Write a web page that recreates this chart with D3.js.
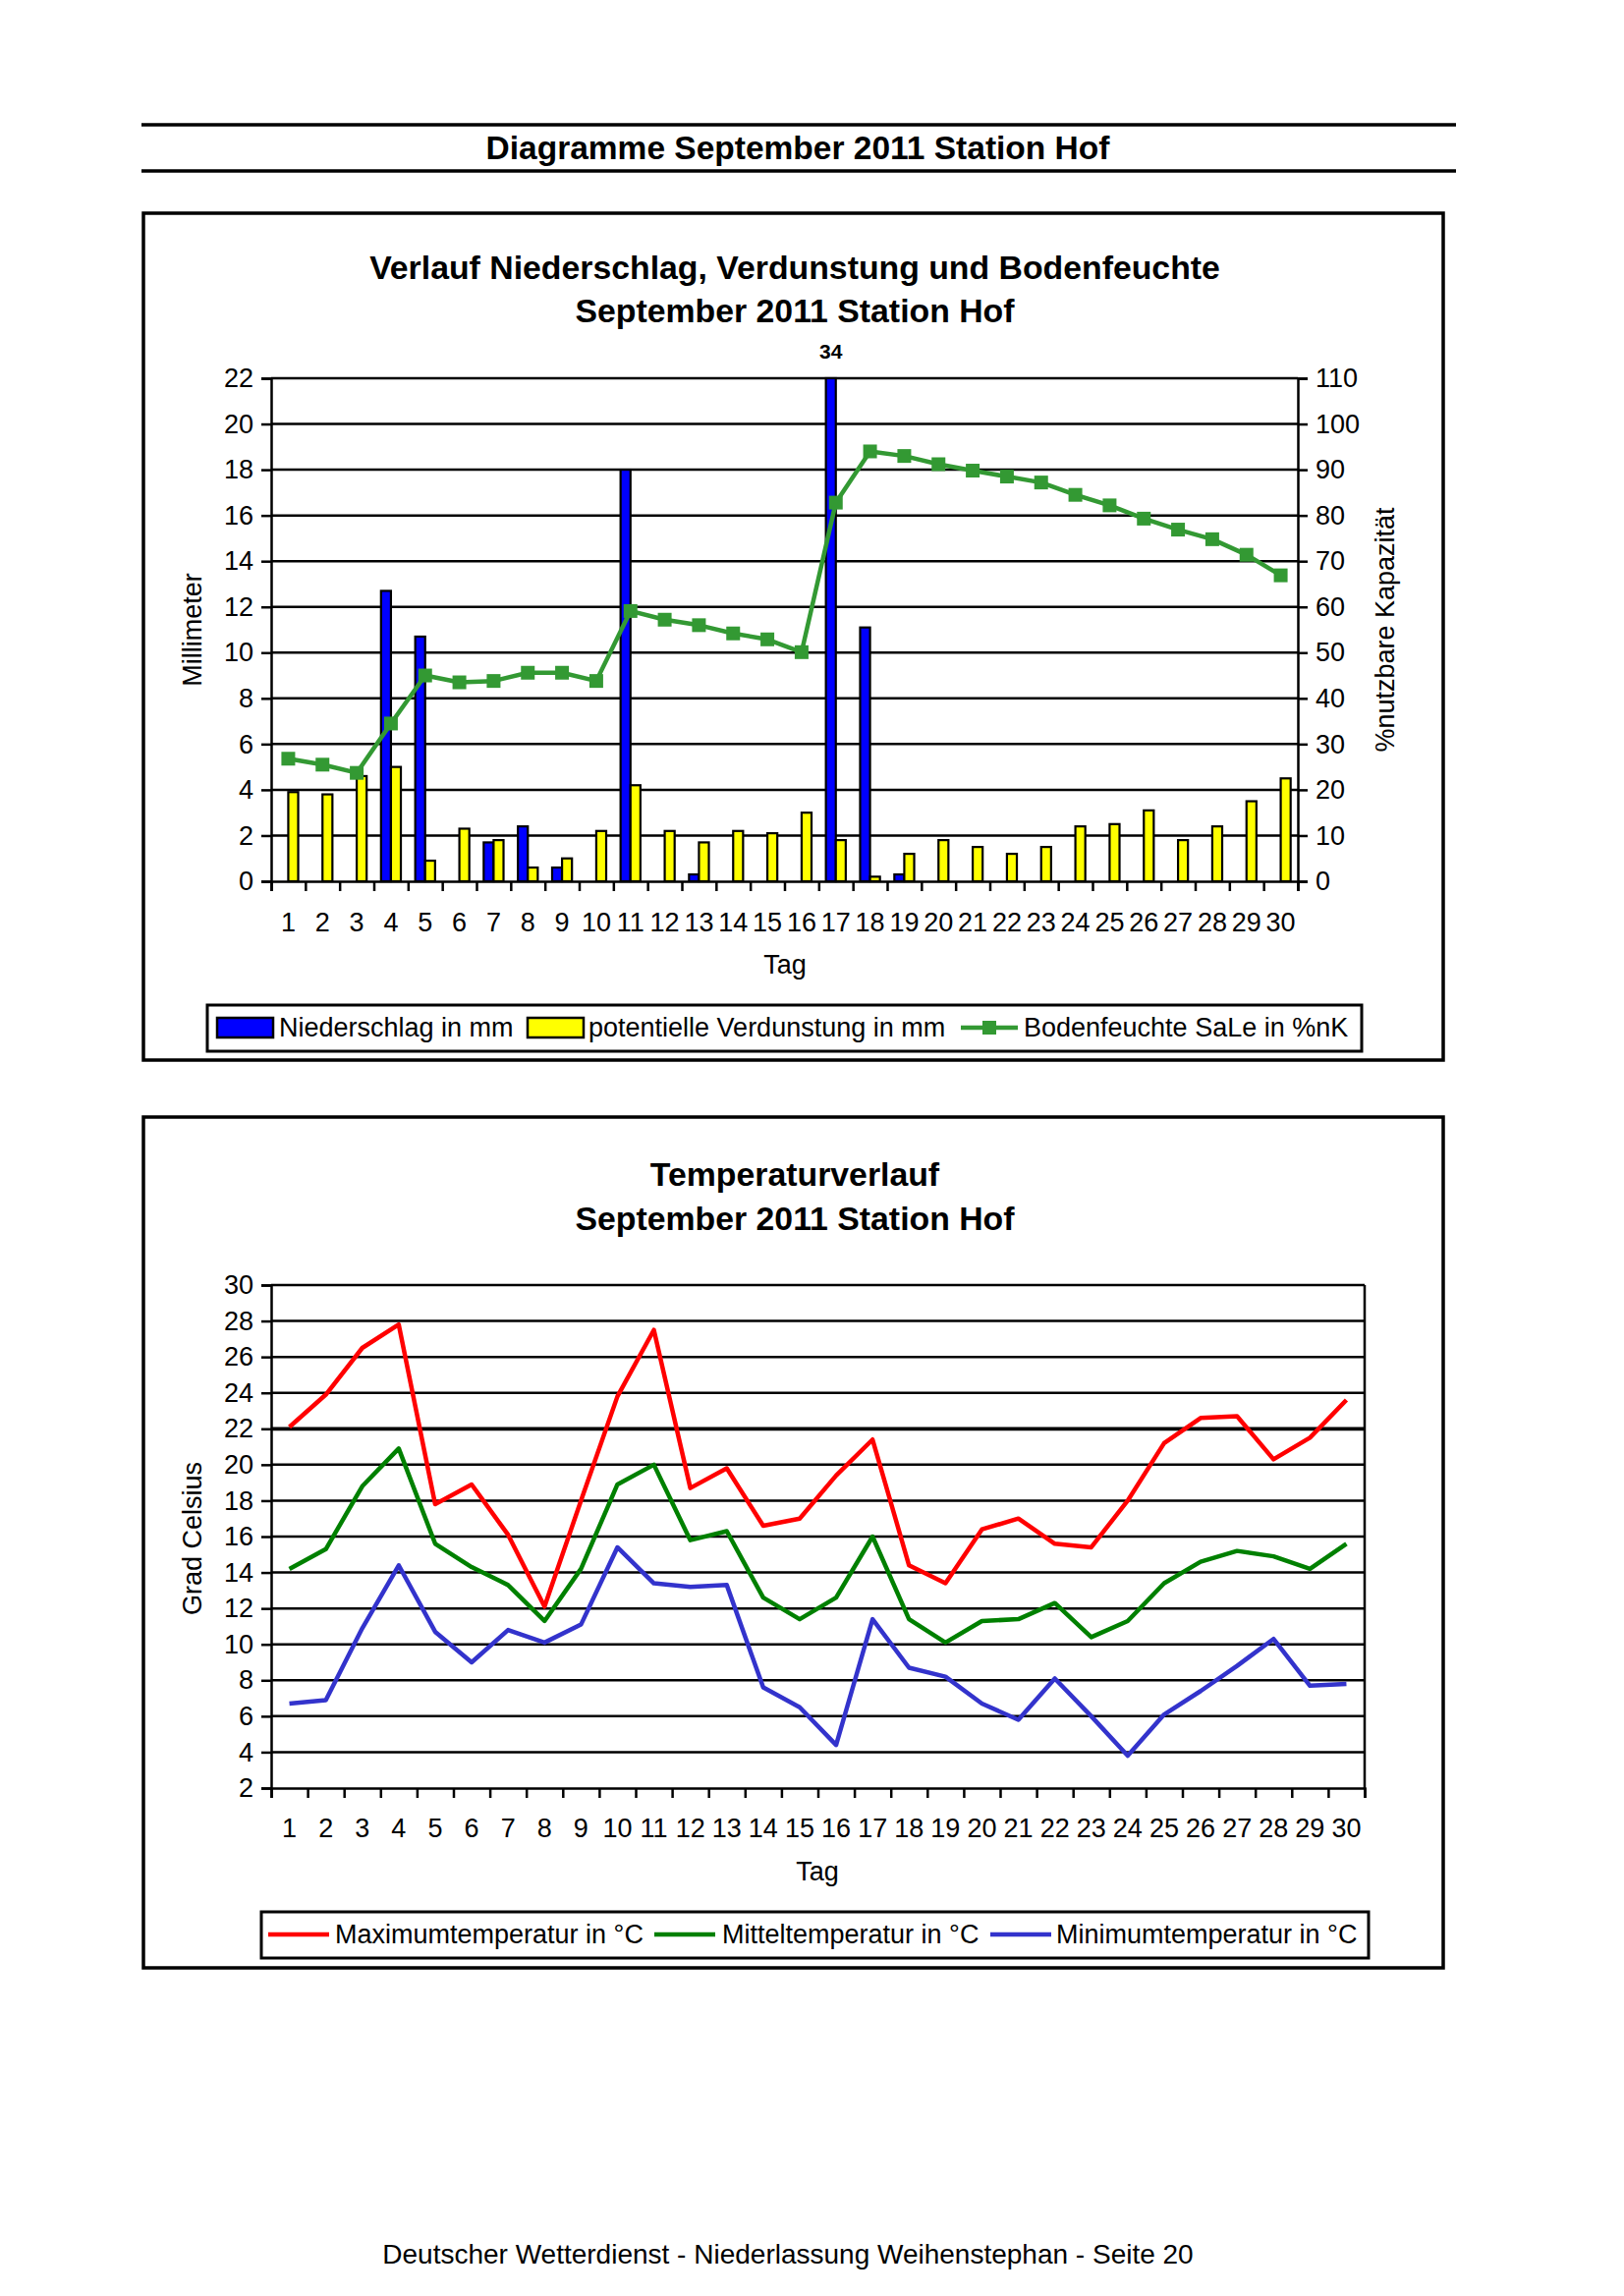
<!DOCTYPE html>
<html><head><meta charset="utf-8">
<script src="https://cdn.jsdelivr.net/npm/d3@7"></script>
<style>
body{margin:0;background:#fff;}
svg{display:block;font-family:Arial,"Liberation Sans",Helvetica,sans-serif;}
</style></head><body>
<svg id="c" width="1653" height="2337"></svg>
<script>
// ---------- data ----------
const tage = ["1","2","3","4","5","6","7","8","9","10","11","12","13","14","15","16","17","18","19","20","21","22","23","24","25","26","27","28","29","30"];
const niederschlag = [0,0,0,12.7,10.7,0,1.7,2.4,0.6,0,18.0,0,0.3,0,0,0,34.0,11.1,0.3,0,0,0,0,0,0,0,0,0,0,0];
const verdunstung = [3.9,3.8,4.6,5.0,0.9,2.3,1.8,0.6,1.0,2.2,4.2,2.2,1.7,2.2,2.1,3.0,1.8,0.2,1.2,1.8,1.5,1.2,1.5,2.4,2.5,3.1,1.8,2.4,3.5,4.5];
const bodenfeuchte = [26.8,25.5,23.7,34.5,45.0,43.5,43.8,45.6,45.6,43.8,59.1,57.2,56.0,54.2,52.9,50.1,82.8,94.0,93.0,91.2,89.8,88.5,87.2,84.5,82.2,79.3,76.9,74.8,71.4,66.9];
const tMax = [22.1,23.9,26.5,27.8,17.8,18.9,16.1,12.1,18.0,23.8,27.5,18.7,19.8,16.6,17.0,19.4,21.4,14.4,13.4,16.4,17.0,15.6,15.4,18.0,21.2,22.6,22.7,20.3,21.5,23.6];
const tMittel = [14.2,15.3,18.8,20.9,15.6,14.3,13.3,11.3,14.2,18.9,20.0,15.8,16.3,12.6,11.4,12.6,16.0,11.4,10.1,11.3,11.4,12.3,10.4,11.3,13.4,14.6,15.2,14.9,14.2,15.6];
const tMin = [6.7,6.9,10.9,14.4,10.7,9.0,10.8,10.1,11.1,15.4,13.4,13.2,13.3,7.6,6.5,4.4,11.4,8.7,8.2,6.7,5.8,8.1,6.0,3.8,6.1,7.4,8.8,10.3,7.7,7.8];
const mmTicks = [0,2,4,6,8,10,12,14,16,18,20,22];
const pctTicks = [0,10,20,30,40,50,60,70,80,90,100,110];
const tempTicks = [2,4,6,8,10,12,14,16,18,20,22,24,26,28,30];

const svg = d3.select("#c");
svg.append("rect").attr("width",1653).attr("height",2337).attr("fill","#fff");

const FS = 27;
function styleAxis(g, sw){
  g.attr("font-size",FS).attr("font-family","Arial, 'Liberation Sans', sans-serif");
  g.selectAll("path.domain").attr("stroke","#000").attr("stroke-width",sw);
  g.selectAll(".tick line").attr("stroke","#000").attr("stroke-width",sw);
  g.selectAll(".tick text").attr("fill","#000");
}
function txt(x,y,s,opt={}){
  return svg.append("text").attr("x",x).attr("y",y).text(s)
    .attr("font-size",opt.size||FS).attr("font-weight",opt.bold?"bold":"normal")
    .attr("text-anchor",opt.anchor||"middle").attr("fill","#000");
}

// ---------- page header ----------
svg.append("line").attr("x1",144).attr("x2",1482).attr("y1",127).attr("y2",127).attr("stroke","#000").attr("stroke-width",3.5);
svg.append("line").attr("x1",144).attr("x2",1482).attr("y1",174).attr("y2",174).attr("stroke","#000").attr("stroke-width",3.5);
txt(812,162,"Diagramme September 2011 Station Hof",{size:33.5,bold:true});

// ================= Chart 1 =================
svg.append("rect").attr("x",146).attr("y",217).attr("width",1323).attr("height",862)
  .attr("fill","none").attr("stroke","#000").attr("stroke-width",3.5);
txt(809,284,"Verlauf Niederschlag, Verdunstung und Bodenfeuchte",{size:33.8,bold:true});
txt(809,328,"September 2011 Station Hof",{size:33.8,bold:true});

const L1=276, R1=1321, T1=385, B1=897;
const x1 = d3.scaleBand().domain(tage).range([L1,R1]).paddingInner(0).paddingOuter(0);
const xb1 = d3.scaleLinear().domain([0,30]).range([L1,R1]);
const yL = d3.scaleLinear().domain([0,22]).range([B1,T1]);
const yR = d3.scaleLinear().domain([0,110]).range([B1,T1]);

// gridlines
svg.append("g").selectAll("line").data(mmTicks.filter(d=>d>0)).join("line")
  .attr("x1",L1).attr("x2",R1).attr("y1",d=>yL(d)).attr("y2",d=>yL(d))
  .attr("stroke","#000").attr("stroke-width",2.5);

// bars
const bw = x1.bandwidth()*0.29;
const off = (x1.bandwidth()-2*bw)/2;
svg.append("g").selectAll("rect").data(tage.map((t,i)=>({t,v:niederschlag[i]})).filter(d=>d.v>0)).join("rect")
  .attr("x",d=>x1(d.t)+off).attr("width",bw)
  .attr("y",d=>yL(Math.min(d.v,22))).attr("height",d=>B1-yL(Math.min(d.v,22)))
  .attr("fill","#0000ff").attr("stroke","#000").attr("stroke-width",2.2);
svg.append("g").selectAll("rect").data(tage.map((t,i)=>({t,v:verdunstung[i]})).filter(d=>d.v>0)).join("rect")
  .attr("x",d=>x1(d.t)+off+bw).attr("width",bw)
  .attr("y",d=>yL(d.v)).attr("height",d=>B1-yL(d.v))
  .attr("fill","#ffff00").attr("stroke","#000").attr("stroke-width",2.2);

// clipped value label
tage.forEach((t,i)=>{ if(niederschlag[i]>22){
  txt(x1(t)+off+bw/2, T1-20, String(niederschlag[i]),{size:21,bold:true});
}});

// soil moisture line
const lineS = d3.line().x((d,i)=>x1(tage[i])+x1.bandwidth()/2).y(d=>yR(d));
svg.append("path").datum(bodenfeuchte).attr("d",lineS).attr("fill","none")
  .attr("stroke","#339933").attr("stroke-width",4.5).attr("stroke-linejoin","round");
svg.append("g").selectAll("rect").data(bodenfeuchte).join("rect")
  .attr("x",(d,i)=>x1(tage[i])+x1.bandwidth()/2-7).attr("y",d=>yR(d)-7)
  .attr("width",14).attr("height",14).attr("fill","#339933");

// axes
const gL1 = svg.append("g").attr("transform",`translate(${L1},0)`)
  .call(d3.axisLeft(yL).tickValues(mmTicks).tickSize(10).tickPadding(8).tickFormat(d3.format("d")));
styleAxis(gL1,2.5);
const gR1 = svg.append("g").attr("transform",`translate(${R1},0)`)
  .call(d3.axisRight(yR).tickValues(pctTicks).tickSize(10).tickPadding(8).tickFormat(d3.format("d")));
styleAxis(gR1,2.5);
const gB1 = svg.append("g").attr("transform",`translate(0,${B1})`)
  .call(d3.axisBottom(xb1).tickValues(d3.range(0,31)).tickSize(10).tickFormat(""));
styleAxis(gB1,2.5);
const gBL1 = svg.append("g").attr("transform",`translate(0,${B1})`)
  .call(d3.axisBottom(x1).tickSize(0).tickPadding(32));
styleAxis(gBL1,0);
gBL1.select("path.domain").remove();

txt(799,991,"Tag");
svg.append("text").attr("transform","translate(205,641) rotate(-90)").attr("text-anchor","middle")
  .attr("font-size",FS).text("Millimeter");
svg.append("text").attr("transform","translate(1419,641) rotate(-90)").attr("text-anchor","middle")
  .attr("font-size",FS).text("%nutzbare Kapazität");

// legend 1
svg.append("rect").attr("x",211).attr("y",1023).attr("width",1175).attr("height",47)
  .attr("fill","#fff").attr("stroke","#000").attr("stroke-width",3);
const ly1 = 1046;
svg.append("rect").attr("x",221).attr("y",ly1-10).attr("width",57).attr("height",20)
  .attr("fill","#0000ff").attr("stroke","#000").attr("stroke-width",2.5);
txt(284,ly1+9,"Niederschlag in mm",{anchor:"start"});
svg.append("rect").attr("x",537).attr("y",ly1-10).attr("width",57).attr("height",20)
  .attr("fill","#ffff00").attr("stroke","#000").attr("stroke-width",2.5);
txt(599,ly1+9,"potentielle Verdunstung in mm",{anchor:"start"});
svg.append("line").attr("x1",978).attr("x2",1036).attr("y1",ly1).attr("y2",ly1)
  .attr("stroke","#339933").attr("stroke-width",4.5);
svg.append("rect").attr("x",1000).attr("y",ly1-7).attr("width",14).attr("height",14).attr("fill","#339933");
txt(1042,ly1+9,"Bodenfeuchte SaLe in %nK",{anchor:"start"});

// ================= Chart 2 =================
svg.append("rect").attr("x",146).attr("y",1137).attr("width",1323).attr("height",866)
  .attr("fill","none").attr("stroke","#000").attr("stroke-width",3.5);
txt(809,1207,"Temperaturverlauf",{size:33.8,bold:true});
txt(809,1252,"September 2011 Station Hof",{size:33.8,bold:true});

const L2=276, R2=1389, T2=1308, B2=1820;
const x2 = d3.scaleBand().domain(tage).range([L2,R2]).paddingInner(0).paddingOuter(0);
const xb2 = d3.scaleLinear().domain([0,30]).range([L2,R2]);
const yT = d3.scaleLinear().domain([2,30]).range([B2,T2]);

svg.append("g").selectAll("line").data(tempTicks.filter(d=>d>2)).join("line")
  .attr("x1",L2).attr("x2",R2).attr("y1",d=>yT(d)).attr("y2",d=>yT(d))
  .attr("stroke","#000").attr("stroke-width",d=>d===22?3.8:2.5);
svg.append("line").attr("x1",R2).attr("x2",R2).attr("y1",T2).attr("y2",B2).attr("stroke","#000").attr("stroke-width",2.5);

const lineT = d3.line().x((d,i)=>x2(tage[i])+x2.bandwidth()/2).y(d=>yT(d));
[[tMax,"#ff0000"],[tMittel,"#008000"],[tMin,"#3333cc"]].forEach(([s,c])=>{
  svg.append("path").datum(s).attr("d",lineT).attr("fill","none")
    .attr("stroke",c).attr("stroke-width",4.5).attr("stroke-linejoin","round");
});

const gL2 = svg.append("g").attr("transform",`translate(${L2},0)`)
  .call(d3.axisLeft(yT).tickValues(tempTicks).tickSize(10).tickPadding(8).tickFormat(d3.format("d")));
styleAxis(gL2,2.5);
const gB2 = svg.append("g").attr("transform",`translate(0,${B2})`)
  .call(d3.axisBottom(xb2).tickValues(d3.range(0,31)).tickSize(10).tickFormat(""));
styleAxis(gB2,2.5);
const gBL2 = svg.append("g").attr("transform",`translate(0,${B2})`)
  .call(d3.axisBottom(x2).tickSize(0).tickPadding(31));
styleAxis(gBL2,0);
gBL2.select("path.domain").remove();

txt(832,1914,"Tag");
svg.append("text").attr("transform","translate(205,1566) rotate(-90)").attr("text-anchor","middle")
  .attr("font-size",FS).text("Grad Celsius");

// legend 2
svg.append("rect").attr("x",266).attr("y",1946).attr("width",1127).attr("height",47)
  .attr("fill","#fff").attr("stroke","#000").attr("stroke-width",3);
const ly2 = 1969;
[[273,341,"Maximumtemperatur in °C","#ff0000"],[666,735,"Mitteltemperatur in °C","#008000"],[1008,1075,"Minimumtemperatur in °C","#3333cc"]]
 .forEach(([lx,tx,s,c])=>{
  svg.append("line").attr("x1",lx).attr("x2",lx+62).attr("y1",ly2).attr("y2",ly2).attr("stroke",c).attr("stroke-width",4.5);
  txt(tx,ly2+9,s,{anchor:"start"});
 });

// footer
txt(802,2304,"Deutscher Wetterdienst - Niederlassung Weihenstephan - Seite 20",{size:28});
</script>
</body></html>
